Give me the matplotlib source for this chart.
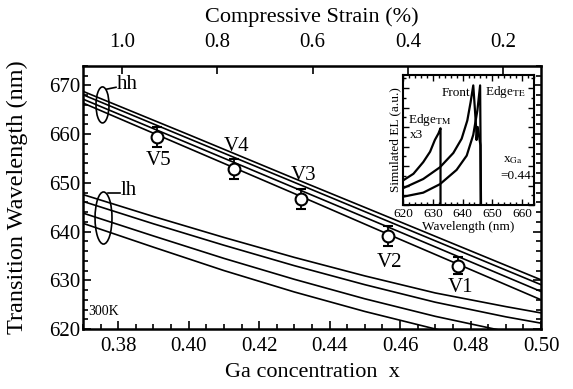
import numpy as np
import matplotlib
matplotlib.use("Agg")
import matplotlib.pyplot as plt
from matplotlib.patches import Ellipse
from matplotlib.ticker import MultipleLocator, FixedLocator, FormatStrFormatter

plt.rcParams['font.family'] = ['Liberation Serif', 'DejaVu Serif']
plt.rcParams['mathtext.fontset'] = 'stix'

# main panel: calculated transition wavelength vs Ga concentration
x_hh = [0.37, 0.40, 0.43, 0.46, 0.50]
hh_1 = [668.8, 659.9, 650.9, 642.0, 630.1]
hh_2 = [668.1, 659.1, 650.1, 641.1, 629.1]
hh_3 = [667.2, 658.1, 649.0, 639.9, 627.7]
hh_4 = [666.4, 657.1, 647.8, 638.4, 626.0]

x_lh = [0.37, 0.39, 0.41, 0.43, 0.45, 0.47, 0.49, 0.50]
lh_1 = [647.6, 643.1, 638.8, 634.7, 630.9, 627.4, 624.6, 623.3]
lh_2 = [646.2, 641.6, 637.2, 633.0, 629.1, 625.5, 622.5, 621.2]
lh_3 = [643.8, 639.1, 634.5, 630.2, 626.2, 622.6, 619.5, 618.0]
lh_4 = [641.7, 636.8, 632.0, 627.6, 623.6, 620.0, 616.8, 615.3]

# measured points
samples = ['V5', 'V4', 'V3', 'V2', 'V1']
x_meas = [0.391, 0.413, 0.432, 0.4565, 0.4765]
wl_meas = [659.4, 652.9, 646.7, 639.1, 633.0]
wl_err = [2.0, 2.0, 2.0, 2.0, 1.8]
label_dy = [-17, 16, 17, -19, -16]

# strain conversion (GaInP on GaAs)
X0, K = 0.5164, 7.385
strain_ticks = [1.0, 0.8, 0.6, 0.4, 0.2]

# inset: simulated EL spectra
tm_nm = [620.1, 623.5, 626.8, 629.1, 630.7, 631.9, 632.6, 632.6]
tm_el = [0.19, 0.24, 0.33, 0.41, 0.50, 0.55, 0.59, 0.0]
front_nm = [620.1, 626.8, 632.4, 636.9, 639.7, 641.6, 642.7, 643.6, 644.2, 644.6, 644.7, 645.1, 646.0, 646.1]
front_el = [0.13, 0.20, 0.29, 0.40, 0.51, 0.65, 0.79, 0.92, 0.72, 0.58, 0.50, 0.60, 0.46, 0.0]
te_nm = [620.1, 626.8, 632.4, 638.0, 641.4, 643.6, 645.0, 645.9, 646.2]
te_el = [0.064, 0.095, 0.16, 0.27, 0.38, 0.54, 0.73, 0.92, 0.0]

fig = plt.figure(figsize=(5.73, 3.89), dpi=100)
ax = fig.add_axes([83/573, 1-329/389, 458/573, 263/389])

for y in (hh_1, hh_2, hh_3, hh_4):
    ax.plot(x_hh, y, color='k', lw=1.2)
for y in (lh_1, lh_2, lh_3, lh_4):
    ax.plot(x_lh, y, color='k', lw=1.2)

ax.errorbar(x_meas, wl_meas, yerr=wl_err, fmt='o', ms=8.5, mfc='white', mec='k',
            mew=1.5, ecolor='k', elinewidth=1.3, capsize=3.5, capthick=1.3, zorder=5)
for s, xv, yv, dy in zip(samples, x_meas, wl_meas, label_dy):
    ax.annotate(s, (xv, yv), xytext=(1.5, dy), textcoords='offset points',
                ha='center', va='center', fontsize=15)

ax.set_xlim(0.37, 0.50)
ax.set_ylim(620, 674)
ax.xaxis.set_major_locator(MultipleLocator(0.02))
ax.xaxis.set_minor_locator(MultipleLocator(0.005))
ax.yaxis.set_major_locator(MultipleLocator(10))
ax.yaxis.set_minor_locator(MultipleLocator(2))
ax.xaxis.set_major_formatter(FormatStrFormatter('%.2f'))
ax.tick_params(which='both', direction='in', top=False, right=True, labelsize=15, width=1.2)
ax.tick_params(which='major', length=6)
ax.tick_params(which='minor', length=3.5)
ax.tick_params(axis='x', pad=6)
ax.tick_params(axis='y', pad=2)
for sp in ax.spines.values():
    sp.set_linewidth(1.8)

ax.set_xlabel('Ga concentration  x', fontsize=16, labelpad=5)
ax.set_ylabel('Transition Wavelength (nm)', fontsize=17.5, labelpad=15)

top = ax.secondary_xaxis('top', functions=(lambda x: (X0 - x) * K, lambda s: X0 - s / K))
top.xaxis.set_major_locator(FixedLocator(strain_ticks))
top.xaxis.set_major_formatter(FormatStrFormatter('%.1f'))
top.tick_params(direction='in', length=6, width=1.2, labelsize=15, pad=10)
top.set_xlabel('Compressive Strain (%)', fontsize=16, labelpad=8)

# band markers
ax.add_patch(Ellipse((0.0426, 0.852), 0.0284, 0.137, transform=ax.transAxes,
                     fill=False, ec='k', lw=1.2))
ax.plot([0.0517, 0.072], [0.912, 0.919], transform=ax.transAxes, color='k', lw=1.2)
ax.text(0.074, 0.928, 'hh', transform=ax.transAxes, fontsize=15, va='center')
ax.add_patch(Ellipse((0.0448, 0.422), 0.037, 0.198, transform=ax.transAxes,
                     fill=False, ec='k', lw=1.2))
ax.plot([0.0535, 0.081], [0.517, 0.517], transform=ax.transAxes, color='k', lw=1.2)
ax.text(0.083, 0.528, 'lh', transform=ax.transAxes, fontsize=15, va='center')
ax.text(0.011, 0.068, '300K', transform=ax.transAxes, fontsize=10, va='center')

# inset
ins = fig.add_axes([403/573, 1-205/389, 131/573, 130/389])
ins.plot(tm_nm, tm_el, color='k', lw=1.6)
ins.plot(front_nm, front_el, color='k', lw=1.6)
ins.plot(te_nm, te_el, color='k', lw=1.6)
ins.set_xlim(620, 664)
ins.set_ylim(0, 1)
ins.xaxis.set_major_locator(MultipleLocator(10))
ins.xaxis.set_minor_locator(MultipleLocator(2))
ins.yaxis.set_major_locator(MultipleLocator(0.15))
ins.yaxis.set_minor_locator(MultipleLocator(0.075))
ins.tick_params(which='both', direction='in', top=True, right=True, labelsize=9.5,
                width=1, pad=2, labelleft=False)
ins.tick_params(which='major', length=4)
ins.tick_params(which='minor', length=2)
for sp in ins.spines.values():
    sp.set_linewidth(1.5)
ins.set_xlabel('Wavelength (nm)', fontsize=9.5, labelpad=1)
ins.set_ylabel('Simulated EL (a.u.)', fontsize=9.5, labelpad=1)
ins.text(0.51, 0.865, 'Front', transform=ins.transAxes, fontsize=9.5, ha='right', va='center')
ins.text(0.625, 0.87, r'Edge$_{\rm TE}$', transform=ins.transAxes, fontsize=9.5, va='center')
ins.text(0.04, 0.65, r'Edge$_{\rm TM}$', transform=ins.transAxes, fontsize=9.5, va='center')
ins.text(0.05, 0.54, 'x3', transform=ins.transAxes, fontsize=9.5, va='center')
ins.text(0.76, 0.35, r'x$_{\rm Ga}$', transform=ins.transAxes, fontsize=9.5, va='center')
ins.text(0.745, 0.22, '=0.44', transform=ins.transAxes, fontsize=9.5, va='center')

fig.savefig('out.png', dpi=100)
